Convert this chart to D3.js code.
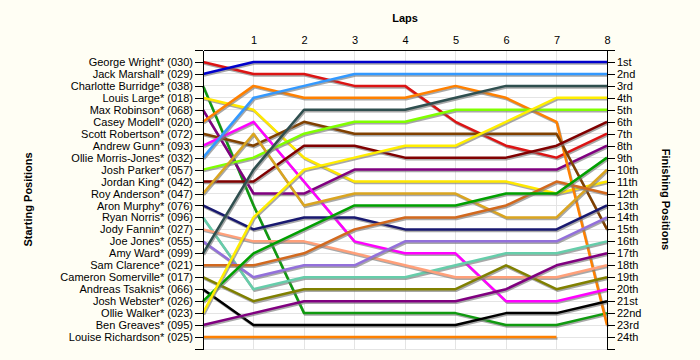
<!DOCTYPE html>
<html><head><meta charset="utf-8">
<script src="https://cdn.jsdelivr.net/npm/d3@7"></script>
<style>
html,body{margin:0;padding:0;background:#fffef4;}
svg{display:block;}
</style></head>
<body>
<svg id="chart" width="700" height="360"></svg>
<script>
// ---- data ----
const laps = [0, 1, 2, 3, 4, 5, 6, 7, 8];
const lapTickLabels = ["1", "2", "3", "4", "5", "6", "7", "8"];
const startingNames = [
  "George Wright* (030)", "Jack Marshall* (029)", "Charlotte Burridge* (038)", "Louis Large* (018)",
  "Max Robinson* (068)", "Casey Modell* (020)", "Scott Robertson* (072)", "Andrew Gunn* (093)",
  "Ollie Morris-Jones* (032)", "Josh Parker* (057)", "Jordan King* (042)", "Roy Anderson* (047)",
  "Aron Murphy* (076)", "Ryan Norris* (096)", "Jody Fannin* (027)", "Joe Jones* (055)",
  "Amy Ward* (099)", "Sam Clarence* (021)", "Cameron Somerville* (017)", "Andreas Tsaknis* (066)",
  "Josh Webster* (026)", "Ollie Walker* (023)", "Ben Greaves* (095)", "Louise Richardson* (025)"
];
const finishingLabels = ["1st","2nd","3rd","4th","5th","6th","7th","8th","9th","10th","11th","12th",
  "13th","14th","15th","16th","17th","18th","19th","20th","21st","22nd","23rd","24th"];

const georgeWright     = [1, 2, 2, 3, 3, 6, 8, 9, 7];
const jackMarshall     = [2, 1, 1, 1, 1, 1, 1, 1, 1];
const charlotteBurridge= [3, 13, 22, 22, 22, 22, 23, 23, 22];
const louisLarge       = [4, 5, 9, 11, 11, 11, 11, 12, 11];
const maxRobinson      = [5, 12, 12, 10, 10, 10, 10, 10, 8];
const caseyModell      = [6, 3, 4, 4, 4, 3, 4, 6, 23];
const scottRobertson   = [7, 8, 6, 7, 7, 7, 7, 7, 15];
const andrewGunn       = [8, 6, 11, 16, 17, 17, 21, 21, 20];
const ollieMorrisJones = [9, 4, 3, 2, 2, 2, 2, 2, 2];
const joshParker       = [10, 9, 7, 6, 6, 5, 5, 5, 5];
const jordanKing       = [11, 11, 8, 8, 9, 9, 9, 8, 6];
const royAnderson      = [12, 7, 13, 12, 12, 12, 14, 14, 10];
const aronMurphy       = [13, 15, 14, 14, 15, 15, 15, 15, 13];
const ryanNorris       = [14, 20, 19, 19, 19, 18, 17, 17, 16];
const jodyFannin       = [15, 16, 16, 17, 18, 19, 19, 19, 18];
const joeJones         = [16, 19, 18, 18, 16, 16, 16, 16, 14];
const amyWard          = [17, 10, 5, 5, 5, 4, 3, 3, 3];
const samClarence      = [18, 18, 17, 15, 14, 14, 13, 11, 12];
const cameronSomerville= [19, 21, 20, 20, 20, 20, 18, 20, 19];
const andreasTsaknis   = [20, 23, 23, 23, 23, 23, 22, 22, 21];
const joshWebster      = [21, 17, 15, 13, 13, 13, 12, 12, 9];
const ollieWalker      = [22, 14, 10, 9, 8, 8, 6, 4, 4];
const benGreaves       = [23, 22, 21, 21, 21, 21, 20, 18, 17];
const louiseRichardson = [24, 24, 24, 24, 24, 24, 24, 24, null];

const seriesValues = [georgeWright, jackMarshall, charlotteBurridge, louisLarge, maxRobinson, caseyModell,
  scottRobertson, andrewGunn, ollieMorrisJones, joshParker, jordanKing, royAnderson, aronMurphy, ryanNorris,
  jodyFannin, joeJones, amyWard, samClarence, cameronSomerville, andreasTsaknis, joshWebster, ollieWalker,
  benGreaves, louiseRichardson];

const seriesColors = ["#dc1414", "#0000cc", "#109a10", "#ffe800", "#800080", "#ff8000", "#804000", "#ff00ff",
  "#3399ff", "#80ff00", "#800000", "#daa520", "#191970", "#66cdaa", "#ffa07a", "#9370db",
  "#2f4f4f", "#d2691e", "#808000", "#000000", "#00a000", "#ffee00", "#800080", "#ff8000"];

// ---- chart ----
const svg = d3.select("#chart");
const pLeft = 203, pRight = 607, pTop = 50, pBottom = 349;
const x = d3.scaleLinear().domain([0, 8]).range([pLeft, pRight]);
const y = d3.scaleLinear().domain([0, 25]).range([pTop, pBottom]);
const font = "'Liberation Sans', Arial, sans-serif";

svg.append("rect").attr("x", pLeft).attr("y", pTop).attr("width", pRight - pLeft).attr("height", pBottom - pTop)
  .attr("fill", "#ffffff");

// grid
const grid = svg.append("g").attr("stroke", "#e4e4e4").attr("stroke-width", 1).attr("shape-rendering", "crispEdges");
grid.selectAll("line.h").data(d3.range(1, 26)).join("line").attr("class", "h")
  .attr("x1", pLeft).attr("x2", pRight).attr("y1", d => y(d)).attr("y2", d => y(d));
grid.selectAll("line.v").data(laps.slice(1, 8)).join("line").attr("class", "v")
  .attr("x1", d => x(d)).attr("x2", d => x(d)).attr("y1", pTop).attr("y2", pBottom);

// lines
const line = d3.line().defined(d => d.v != null).x(d => x(d.lap)).y(d => y(d.v));
const lineData = seriesValues.map((vals, i) => ({ color: seriesColors[i], pts: vals.map((v, j) => ({ lap: laps[j], v })) }));

const gLines = svg.append("g");
lineData.forEach(s => {
  gLines.append("path").attr("d", line(s.pts)).attr("fill", "none")
    .attr("stroke", "#7a7a7a").attr("stroke-opacity", 0.65).attr("stroke-width", 2.5)
    .attr("stroke-linejoin", "round").attr("transform", "translate(1,1.5)");
  gLines.append("path").attr("d", line(s.pts)).attr("fill", "none")
    .attr("stroke", s.color).attr("stroke-width", 2.5).attr("stroke-linejoin", "round");
});

// axes
const styleAxis = g => {
  g.selectAll("text").attr("font-family", font).attr("font-size", 11).attr("fill", "#000");
  g.selectAll("line,path").attr("stroke", "#000");
  g.attr("shape-rendering", "crispEdges");
};

svg.append("g").attr("transform", `translate(${pLeft},0)`)
  .call(d3.axisLeft(y).tickValues(d3.range(0, 26)).tickSize(8).tickSizeOuter(0).tickPadding(2)
    .tickFormat(d => startingNames[d - 1] || ""))
  .call(styleAxis);

svg.append("g").attr("transform", `translate(${pRight},0)`)
  .call(d3.axisRight(y).tickValues(d3.range(0, 26)).tickSize(8).tickSizeOuter(0).tickPadding(2)
    .tickFormat(d => finishingLabels[d - 1] || ""))
  .call(styleAxis);

svg.append("g").attr("transform", `translate(0,${pTop})`)
  .call(d3.axisTop(x).tickValues(laps.slice(1)).tickSize(0).tickSizeOuter(0).tickPadding(6)
    .tickFormat((d, i) => lapTickLabels[i]))
  .call(styleAxis);

// titles
svg.append("text").attr("x", (pLeft + pRight) / 2).attr("y", 22).attr("text-anchor", "middle")
  .attr("font-family", font).attr("font-size", 11).attr("font-weight", "bold").text("Laps");
svg.append("text").attr("transform", `translate(32,${(pTop + pBottom) / 2}) rotate(-90)`).attr("text-anchor", "middle")
  .attr("font-family", font).attr("font-size", 11).attr("font-weight", "bold").text("Starting Positions");
svg.append("text").attr("transform", `translate(662,${(pTop + pBottom) / 2}) rotate(90)`).attr("text-anchor", "middle")
  .attr("font-family", font).attr("font-size", 11).attr("font-weight", "bold").text("Finishing Positions");
</script>
</body></html>
